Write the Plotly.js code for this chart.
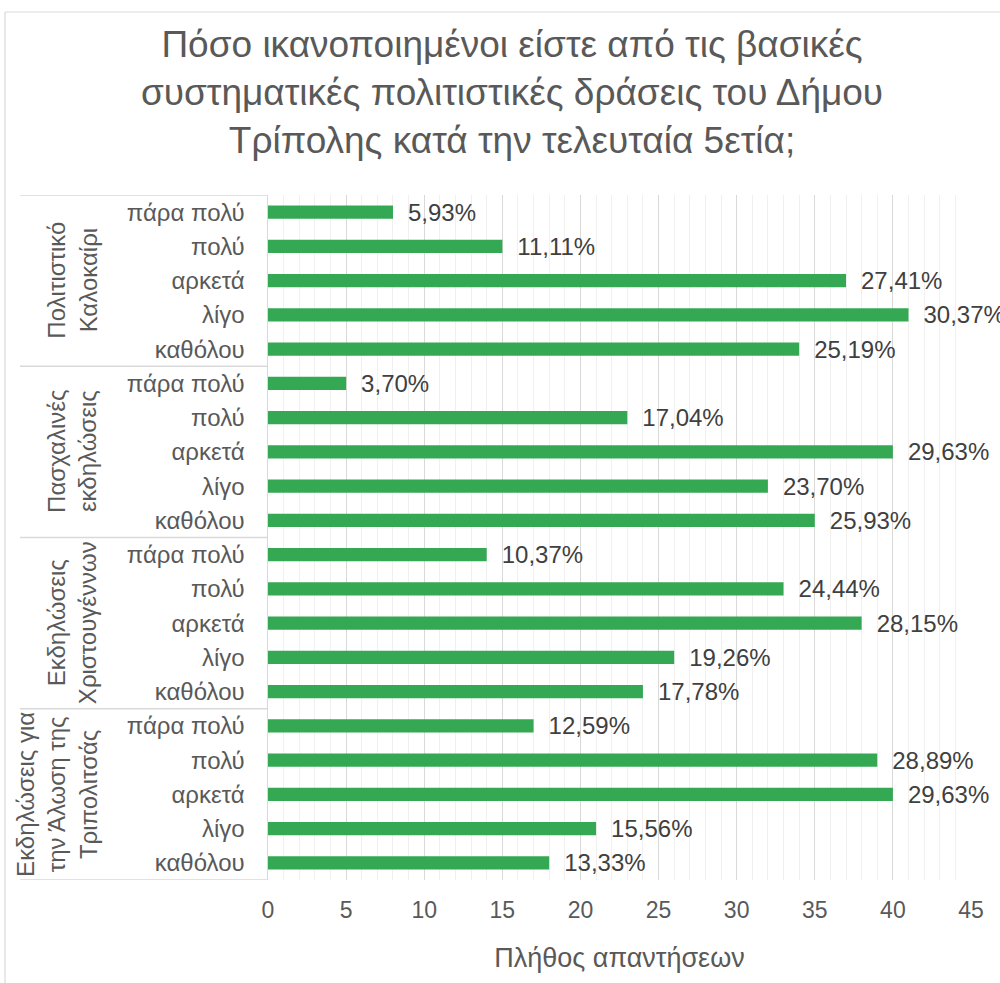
<!DOCTYPE html>
<html>
<head>
<meta charset="utf-8">
<script src="https://cdn.plot.ly/plotly-3.0.1.min.js"></script>
<style>html,body{margin:0;padding:0;background:#fff;}#chart{width:1000px;height:983px;}</style>
</head>
<body>
<div id="chart"></div>
<script>
// Data (top to bottom)
const groups = [
  "Πολιτιστικό<br>Καλοκαίρι",
  "Πασχαλινές<br>εκδηλώσεις",
  "Εκδηλώσεις<br>Χριστουγέννων",
  "Εκδηλώσεις για<br>την Άλωση της<br>Τριπολιτσάς"
];
const levels = ["πάρα πολύ", "πολύ", "αρκετά", "λίγο", "καθόλου"];
const summerCounts    = [8, 15, 37, 41, 34];
const easterCounts    = [5, 23, 40, 32, 35];
const christmasCounts = [14, 33, 38, 26, 24];
const alosiCounts     = [17, 39, 40, 21, 18];
const summerPct    = ["5,93%", "11,11%", "27,41%", "30,37%", "25,19%"];
const easterPct    = ["3,70%", "17,04%", "29,63%", "23,70%", "25,93%"];
const christmasPct = ["10,37%", "24,44%", "28,15%", "19,26%", "17,78%"];
const alosiPct     = ["12,59%", "28,89%", "29,63%", "15,56%", "13,33%"];
const xTitle = "Πλήθος απαντήσεων";
const chartTitle = "Πόσο ικανοποιημένοι είστε από τις βασικές<br>συστηματικές πολιτιστικές δράσεις του Δήμου<br>Τρίπολης κατά την τελευταία 5ετία;";

const counts = [summerCounts, easterCounts, christmasCounts, alosiCounts];
const pcts = [summerPct, easterPct, christmasPct, alosiPct];

const xs = [], ys = [], texts = [], tickvals = [], ticktext = [];
counts.forEach((arr, g) => {
  arr.forEach((v, i) => {
    const idx = g * levels.length + i;
    xs.push(v); ys.push(idx); texts.push(pcts[g][i]);
    tickvals.push(idx); ticktext.push(levels[i]);
  });
});

// Layout geometry (pixels)
const W = 1000, H = 983;
const mL = 268, mR = 29, mT = 195, mB = 103;
const plotW = W - mL - mR, plotH = H - mT - mB;
const px2paperX = p => (p - mL) / plotW;
const px2paperY = p => 1 - (p - mT) / plotH;
const FONT = 'Liberation Sans, Arial, Helvetica, sans-serif';

const n = levels.length;
const shapes = [];
// group separators
for (let g = 0; g <= groups.length; g++) {
  shapes.push({type:'line', xref:'paper', yref:'y', x0:px2paperX(20), x1:0,
    y0:g*n-0.5, y1:g*n-0.5, line:{color:'#d9d9d9', width:1.5}});
}
// outer chart border (left & top)
shapes.push({type:'line', xref:'paper', yref:'paper', x0:px2paperX(5), x1:px2paperX(5),
  y0:px2paperY(12), y1:px2paperY(1100), line:{color:'#d9d9d9', width:1.2}});
shapes.push({type:'line', xref:'paper', yref:'paper', x0:px2paperX(5), x1:px2paperX(1100),
  y0:px2paperY(12), y1:px2paperY(12), line:{color:'#d9d9d9', width:1.2}});

const annotations = groups.map((gname, g) => ({
  xref:'paper', yref:'y', x:px2paperX(103), y:g*n + (n-1)/2,
  xanchor:'right', yanchor:'middle', text:gname, textangle:-90, showarrow:false,
  font:{family:FONT, size:24, color:'#595959'}
}));

const trace = {
  type:'bar', orientation:'h', x:xs, y:ys, text:texts,
  texttemplate:'\u2002%{text}',
  textposition:'outside', cliponaxis:false, constraintext:'none',
  textfont:{family:FONT, size:24, color:'#404040'},
  marker:{color:'#34A853'}, width:0.38, hoverinfo:'skip'
};

const layout = {
  width:W, height:H,
  margin:{l:mL, r:mR, t:mT, b:mB, pad:0},
  paper_bgcolor:'#ffffff', plot_bgcolor:'#ffffff',
  showlegend:false,
  title:{text:chartTitle, x:0.512, xanchor:'center', xref:'container',
    y:1 - 57/H, yanchor:'middle', yref:'container',
    font:{family:FONT, size:37, color:'#595959'}},
  xaxis:{range:[0,45], dtick:5, tick0:0, showgrid:true, gridcolor:'#d9d9d9', gridwidth:1,
    minor:{dtick:1, showgrid:true, gridcolor:'#f0f0f0', gridwidth:1},
    zeroline:false, showline:false, ticks:'', ticklabelstandoff:14,
    tickfont:{family:FONT, size:23, color:'#595959'},
    title:{text:xTitle, standoff:26, font:{family:FONT, size:27, color:'#595959'}},
    fixedrange:true},
  yaxis:{range:[19.5,-0.5], tickvals:tickvals, ticktext:ticktext, showgrid:false,
    zeroline:false, showline:true, linecolor:'#d9d9d9', linewidth:1.5, ticks:'',
    ticklabelstandoff:17,
    tickfont:{family:FONT, size:24, color:'#595959'},
    fixedrange:true},
  shapes:shapes, annotations:annotations
};

Plotly.newPlot('chart', [trace], layout, {displayModeBar:false, staticPlot:true});
</script>
</body>
</html>
